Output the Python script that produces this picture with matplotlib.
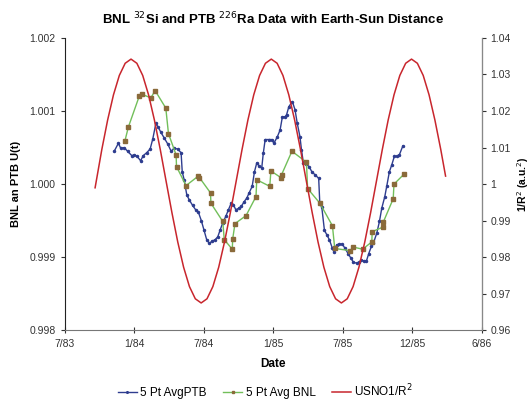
import matplotlib
matplotlib.use("Agg")
import matplotlib.pyplot as plt

plt.rcParams['font.family'] = ['Liberation Sans', 'DejaVu Sans']

# x values are days counted from the 7/83 tick
tick_days = [0, 182, 364, 546, 728, 910, 1092]
tick_labels = ["7/83", "1/84", "7/84", "1/85", "7/85", "12/85", "6/86"]

ptb_days = [130, 141, 147, 156, 165, 176, 183, 190, 199, 206, 215, 224, 231, 239,
            245, 252, 261, 270, 279, 287, 296, 305, 308, 313, 320, 327, 335, 343,
            350, 358, 365, 372, 379, 386, 394, 401, 407, 414, 422, 429, 436, 442,
            448, 456, 463, 470, 477, 483, 491, 497, 503, 509, 516, 520, 525, 534,
            542, 548, 557, 564, 570, 577, 581, 587, 596, 603, 609, 616, 620, 625,
            631, 640, 647, 655, 665, 668, 673, 680, 686, 693, 701, 705, 712, 719,
            727, 734, 742, 749, 756, 764, 771, 777, 783, 790, 796, 803, 808, 817,
            824, 830, 838, 843, 850, 856, 863, 869, 876, 885]
ptb_vals = [1.00045, 1.00056, 1.00049, 1.00050, 1.00045, 1.00039, 1.00040, 1.00038,
            1.00032, 1.00039, 1.00043, 1.00048, 1.00062, 1.00083, 1.00078, 1.00071,
            1.00063, 1.00055, 1.00045, 1.00049, 1.00048, 1.00043, 1.00017, 1.00006,
            0.99985, 0.99978, 0.99971, 0.99965, 0.99962, 0.99950, 0.99937, 0.99924,
            0.99919, 0.99922, 0.99924, 0.99928, 0.99937, 0.99947, 0.99956, 0.99965,
            0.99974, 0.99972, 0.99965, 0.99967, 0.99970, 0.99976, 0.99981, 0.99988,
            0.99997, 1.00017, 1.00029, 1.00025, 1.00022, 1.00042, 1.00061, 1.00061,
            1.00061, 1.00056, 1.00065, 1.00074, 1.00092, 1.00092, 1.00095, 1.00106,
            1.00113, 1.00102, 1.00083, 1.00065, 1.00047, 1.00029, 1.00028, 1.00024,
            1.00017, 1.00013, 1.00008, 0.99973, 0.99969, 0.99937, 0.99931, 0.99924,
            0.99912, 0.99907, 0.99917, 0.99918, 0.99918, 0.99912, 0.99905, 0.99899,
            0.99893, 0.99892, 0.99893, 0.99896, 0.99895, 0.99895, 0.99905, 0.99915,
            0.99919, 0.99933, 0.99949, 0.99967, 0.99983, 0.99997, 1.00017, 1.00026,
            1.00038, 1.00038, 1.00040, 1.00052]

bnl_days = [158, 167, 196, 202, 226, 237, 265, 272, 292, 293, 318, 350, 353, 382,
            383, 414, 418, 439, 440, 446, 475, 501, 503, 537, 540, 566, 568, 595,
            633, 636, 668, 701, 707, 748, 755, 780, 804, 805, 832, 834, 860, 862, 889]
bnl_vals = [1.00059, 1.00078, 1.00121, 1.00123, 1.00118, 1.00128, 1.00104, 1.00069,
            1.00040, 1.00024, 0.99998, 1.00011, 1.00009, 0.99988, 0.99974, 0.99949,
            0.99924, 0.99911, 0.99925, 0.99946, 0.99957, 0.99983, 1.00006, 0.99997,
            1.00018, 1.00009, 1.00013, 1.00045, 1.00030, 0.99994, 0.99974, 0.99943,
            0.99912, 0.99909, 0.99914, 0.99911, 0.99921, 0.99935, 0.99941, 0.99948,
            0.99980, 1.00000, 1.00014]

usno_days = [80.0, 97.6, 112.8, 128.1, 143.4, 158.7, 174.0, 189.3, 204.6, 219.9,
             235.2, 250.5, 265.7, 281.0, 296.3, 311.6, 326.9, 342.2, 357.5, 372.8,
             388.1, 403.4, 418.6, 433.9, 449.2, 464.5, 479.8, 495.1, 510.4, 525.7,
             541.0, 556.3, 571.5, 586.8, 602.1, 617.4, 632.7, 648.0, 663.3, 678.6,
             693.9, 709.2, 724.4, 739.7, 755.0, 770.3, 785.6, 800.9, 816.2, 831.5,
             846.8, 862.1, 877.3, 892.6, 907.9, 923.2, 938.5, 953.8, 969.1, 984.4,
             997.0]
usno_vals = [0.99900, 1.00948, 1.01753, 1.02443, 1.02973, 1.03306, 1.03420, 1.03306,
             1.02973, 1.02443, 1.01753, 1.00948, 1.00085, 0.99222, 0.98417, 0.97727,
             0.97197, 0.96864, 0.96750, 0.96864, 0.97197, 0.97727, 0.98417, 0.99222,
             1.00085, 1.00948, 1.01753, 1.02443, 1.02973, 1.03306, 1.03420, 1.03306,
             1.02973, 1.02443, 1.01753, 1.00948, 1.00085, 0.99222, 0.98417, 0.97727,
             0.97197, 0.96864, 0.96750, 0.96864, 0.97197, 0.97727, 0.98417, 0.99222,
             1.00085, 1.00948, 1.01753, 1.02443, 1.02973, 1.03306, 1.03420, 1.03306,
             1.02973, 1.02443, 1.01753, 1.00948, 1.00220]

left_ticks = [0.998, 0.999, 1.000, 1.001, 1.002]
left_labels = ["0.998", "0.999", "1.000", "1.001", "1.002"]
right_ticks = [0.96, 0.97, 0.98, 0.99, 1.00, 1.01, 1.02, 1.03, 1.04]
right_labels = ["0.96", "0.97", "0.98", "0.99", "1", "1.01", "1.02", "1.03", "1.04"]


def main():
    fig = plt.figure(figsize=(5.31, 3.99), dpi=100)
    ax = fig.add_axes([0.1215, 0.172, 0.786, 0.733])
    ax2 = ax.twinx()

    l1, = ax.plot(ptb_days, ptb_vals, color="#2e3d8f", lw=1.0, marker="o",
                  ms=1.5, label="5 Pt AvgPTB")
    l2, = ax.plot(bnl_days, bnl_vals, color="#72bf5a", lw=1.0, marker="s",
                  ms=2.3, mfc="#8a6a3a", mec="#8a6a3a", label="5 Pt Avg BNL")
    l3, = ax2.plot(usno_days, usno_vals, color="#c8262d", lw=1.1,
                   label="USNO1/R$^2$")

    ax.set_xlim(0, 1092)
    ax.set_ylim(0.998, 1.002)
    ax2.set_ylim(0.96, 1.04)

    ax.set_xticks(tick_days)
    ax.set_xticklabels(tick_labels)
    ax.set_yticks(left_ticks)
    ax.set_yticklabels(left_labels)
    ax2.set_yticks(right_ticks)
    ax2.set_yticklabels(right_labels)

    for a in (ax, ax2):
        a.spines["top"].set_visible(False)
        a.tick_params(labelsize=7.5, colors="#333333", length=3, width=0.8)
    ax.tick_params(axis="x", direction="inout", length=5, pad=4)
    ax2.tick_params(axis="y", pad=3)
    ax.spines["left"].set_color("#222222")
    ax.spines["bottom"].set_color("#777777")
    ax2.spines["right"].set_color("#888888")
    ax2.spines["left"].set_visible(False)
    ax2.spines["bottom"].set_visible(False)

    ax.set_title("BNL $^{32}$Si and PTB $^{226}$Ra Data with Earth-Sun Distance",
                 fontsize=9.5, fontweight="bold", pad=10)
    ax.set_xlabel("Date", fontsize=8.5, fontweight="bold", labelpad=6)
    ax.set_ylabel("BNL an PTB U(t)", fontsize=8, fontweight="bold", labelpad=6)
    ax2.set_ylabel("1/R$^2$ (a.u.$^2$)", fontsize=7.5, fontweight="bold", labelpad=3)

    fig.legend(handles=[l1, l2, l3], loc="center", bbox_to_anchor=(0.5, 0.02),
               ncol=3, frameon=False, fontsize=8.5, handlelength=1.6,
               handletextpad=0.3, columnspacing=1.4, markerscale=0.8)

    plt.savefig("out.png", dpi=100)


if __name__ == "__main__":
    main()
